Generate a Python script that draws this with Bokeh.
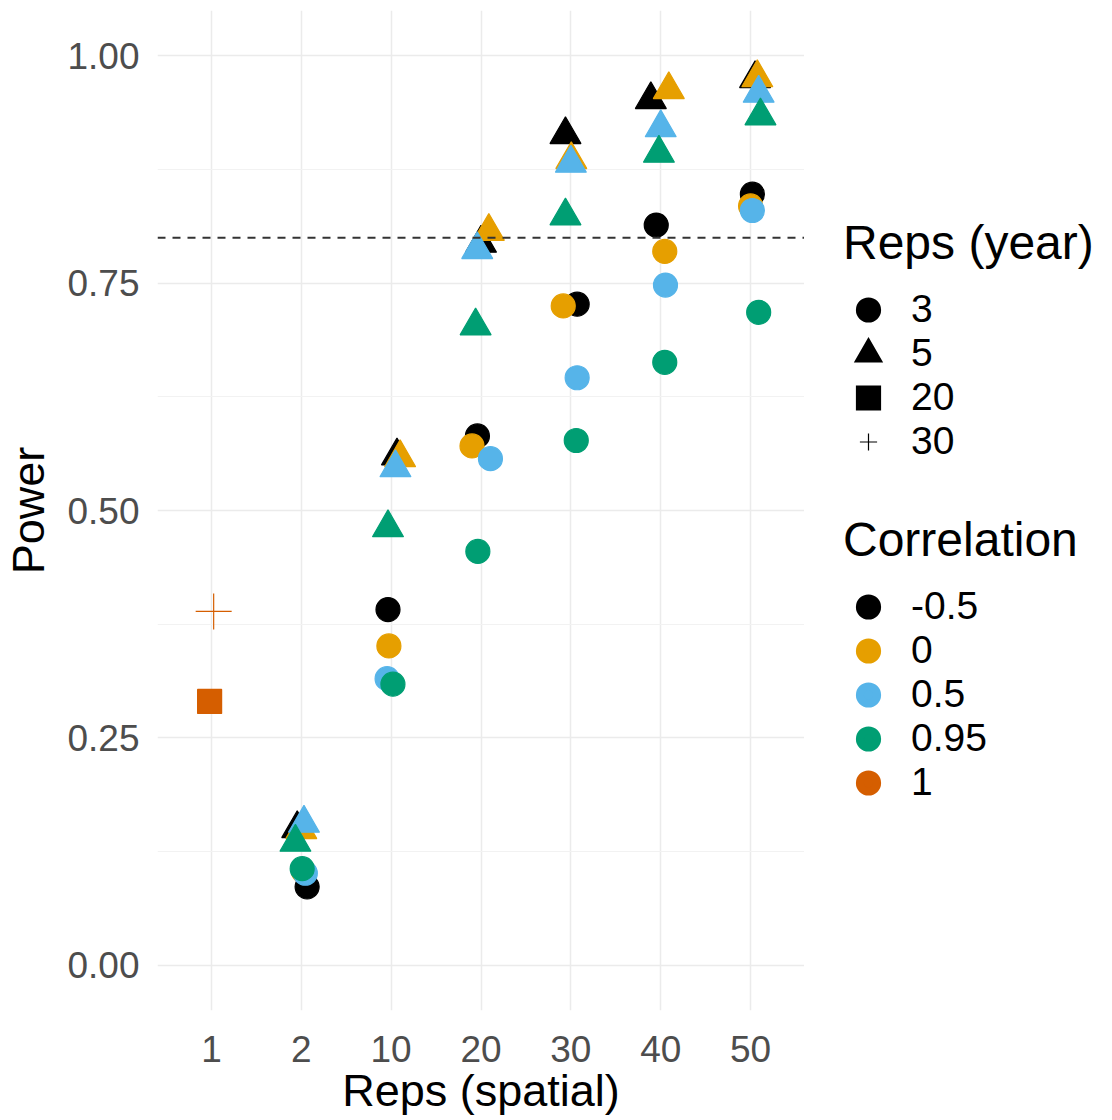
from bokeh.plotting import figure
from bokeh.layouts import row
from bokeh.models import (Range1d, FixedTicker, NumeralTickFormatter, Span, Legend,
                          LegendItem, ColumnDataSource)
from bokeh.transform import factor_cmap, factor_mark
from bokeh.embed import file_html
from bokeh.resources import INLINE

# ---------------- data ----------------
spatial_levels = ["1", "2", "10", "20", "30", "40", "50"]
year_levels = ["3", "5", "20", "30"]
corr_levels = ["-0.5", "0", "0.5", "0.95", "1"]
corr_colors = ["#000000", "#E69F00", "#56B4E9", "#009E73", "#D55E00"]

spatial = (["1", "1"]
           + ["2"] * 8 + ["10"] * 8 + ["20"] * 8 + ["30"] * 8 + ["40"] * 8 + ["50"] * 8)
year = (["30", "20"]
        + (["5"] * 4 + ["3"] * 4) * 6)
corr = (["1", "1"]
        + (["-0.5", "0", "0.5", "0.95"] * 2) * 6)
power = [0.389, 0.290,
         # 2
         0.150, 0.149, 0.156, 0.135, 0.086, 0.103, 0.101, 0.106,
         # 10
         0.560, 0.558, 0.547, 0.481, 0.391, 0.351, 0.315, 0.309,
         # 20
         0.794, 0.807, 0.787, 0.703, 0.582, 0.571, 0.557, 0.455,
         # 30
         0.9135, 0.886, 0.882, 0.824, 0.727, 0.725, 0.646, 0.577,
         # 40
         0.952, 0.963, 0.921, 0.893, 0.814, 0.785, 0.748, 0.663,
         # 50
         0.975, 0.976, 0.959, 0.934, 0.848, 0.835, 0.830, 0.718]
# horizontal jitter (in category units) as seen in the picture
jitter = [0.025, -0.02,
          -0.045, 0.0, 0.03, -0.065, 0.065, 0.025, 0.045, 0.01,
          0.065, 0.10, 0.048, -0.035, -0.035, -0.025, -0.045, 0.02,
          0.0, 0.087, -0.042, -0.06, -0.04, -0.10, 0.105, -0.035,
          -0.06, 0.005, 0.0, -0.06, 0.07, -0.085, 0.07, 0.06,
          -0.11, 0.09, 0.0, -0.02, -0.05, 0.045, 0.053, 0.045,
          0.05, 0.075, 0.09, 0.11, 0.02, 0.0, 0.02, 0.09]
power_target = 0.8

# ---------------- styles ----------------
marker_by_year = {"3": "circle", "5": "triangle", "20": "square", "30": "cross"}
size_by_year = {"3": 24, "5": 31, "20": 24, "30": 36}
FONT = "Liberation Sans"

xpos = [spatial_levels.index(s) + 1 + j for s, j in zip(spatial, jitter)]
source = ColumnDataSource(dict(
    x=xpos, power=power, year=year, corr=corr,
    size=[size_by_year[y] for y in year],
))

p = figure(width=804, height=1120, output_backend="svg", toolbar_location=None,
           x_range=Range1d(0.4, 7.6), y_range=Range1d(-0.05, 1.05),
           min_border_left=157, min_border_right=0, min_border_top=10,
           min_border_bottom=110, outline_line_color=None,
           background_fill_color="white", border_fill_color="white")

p.add_layout(Span(location=power_target, dimension="width", line_dash="8 7",
                  line_color="#333333", line_width=2))

p.scatter(x="x", y="power", source=source, size="size",
          marker=factor_mark("year", [marker_by_year[y] for y in year_levels], year_levels),
          fill_color=factor_cmap("corr", corr_colors, corr_levels),
          line_color=factor_cmap("corr", corr_colors, corr_levels),
          line_width=1.2)

# axes
p.xaxis.ticker = FixedTicker(ticks=list(range(1, len(spatial_levels) + 1)))
p.xaxis.major_label_overrides = {i + 1: s for i, s in enumerate(spatial_levels)}
p.yaxis.ticker = FixedTicker(ticks=[0, 0.25, 0.5, 0.75, 1.0],
                             minor_ticks=[0.125, 0.375, 0.625, 0.875])
p.yaxis.formatter = NumeralTickFormatter(format="0.00")
p.xaxis.axis_label = "Reps (spatial)"
p.yaxis.axis_label = "Power"
for ax in (p.xaxis, p.yaxis):
    ax.axis_line_color = None
    ax.major_tick_line_color = None
    ax.minor_tick_line_color = None
    ax.major_label_text_font = FONT
    ax.major_label_text_font_size = "37px"
    ax.major_label_text_color = "#4D4D4D"
    ax.axis_label_text_font = FONT
    ax.axis_label_text_font_size = "45px"
    ax.axis_label_text_font_style = "normal"
    ax.axis_label_text_color = "#000000"
p.xaxis.major_label_standoff = 19
p.xaxis.axis_label_standoff = 0
p.yaxis.major_label_standoff = 12
p.yaxis.axis_label_standoff = 10

p.xgrid.grid_line_color = "#EBEBEB"
p.xgrid.grid_line_width = 1.5
p.ygrid.grid_line_color = "#EBEBEB"
p.ygrid.grid_line_width = 1.5
p.ygrid.minor_grid_line_color = "#F2F2F2"
p.ygrid.minor_grid_line_width = 1.2

# ---------------- legend panel (separate figure on the right) ----------------
lg = figure(width=308, height=1120, output_backend="svg", toolbar_location=None,
            x_range=Range1d(0, 1), y_range=Range1d(0, 1),
            x_axis_type=None, y_axis_type=None,
            min_border_left=0, min_border_right=0, min_border_top=0,
            min_border_bottom=0, outline_line_color=None,
            background_fill_color="white", border_fill_color="white")
lg.xgrid.visible = False
lg.ygrid.visible = False

# key-only renderers: one point placed outside the (hidden) legend panel range
key_outline = {"circle": 8, "triangle": 7, "square": 8, "cross": 1.2}
shape_items = []
for yv in year_levels:
    m = marker_by_year[yv]
    r = lg.scatter(x=[-5], y=[-5], marker=m, fill_color="black",
                   line_color="black", line_width=key_outline[m], line_join="miter")
    shape_items.append(LegendItem(label=yv, renderers=[r]))
color_items = []
for cv, col in zip(corr_levels, corr_colors):
    r = lg.scatter(x=[-5], y=[-5], marker="circle", fill_color=col, line_color=col,
                   line_width=key_outline["circle"])
    color_items.append(LegendItem(label=cv, renderers=[r]))


def make_legend(items, title, loc):
    return Legend(items=items, title=title, location=loc,
                  title_text_font=FONT, title_text_font_size="48px",
                  title_text_font_style="normal", title_text_color="#000000",
                  title_standoff=17,
                  label_text_font=FONT, label_text_font_size="39px",
                  label_text_color="#000000",
                  label_standoff=18, glyph_width=50, glyph_height=43,
                  label_height=43, spacing=0, padding=0, margin=0,
                  border_line_color=None, background_fill_alpha=0)


lg.add_layout(make_legend(shape_items, "Reps (year)", (39, 547)))
lg.add_layout(make_legend(color_items, "Correlation", (39, 206)))

layout = row(p, lg, spacing=0)
open("out.html", "w").write(file_html(layout, INLINE))
